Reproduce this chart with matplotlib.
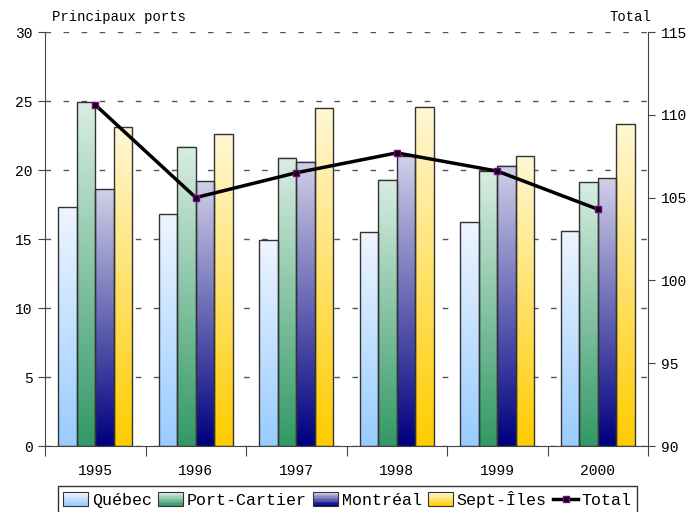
import numpy as np
import matplotlib.pyplot as plt
from matplotlib.patches import Rectangle
from matplotlib.lines import Line2D
from matplotlib.legend_handler import HandlerBase
from matplotlib.colors import to_rgb

plt.rcParams['font.family'] = ['Liberation Mono', 'DejaVu Sans Mono']

# Données (millions de tonnes)
annees = ['1995', '1996', '1997', '1998', '1999', '2000']
quebec = [17.3, 16.8, 14.9, 15.5, 16.2, 15.6]
port_cartier = [24.9, 21.7, 20.9, 19.3, 19.9, 19.1]
montreal = [18.6, 19.2, 20.6, 21.0, 20.3, 19.4]
sept_iles = [23.1, 22.6, 24.5, 24.6, 21.0, 23.3]
total = [110.6, 105.0, 106.5, 107.7, 106.6, 104.3]

series = [
    ('Québec', quebec, '#eef5ff', '#99ccff'),
    ('Port-Cartier', port_cartier, '#d8ede2', '#339966'),
    ('Montréal', montreal, '#cfcfe8', '#000080'),
    ('Sept-Îles', sept_iles, '#fff7d4', '#ffcc00'),
]


def degrade(haut, bas, n=64):
    a = np.array(to_rgb(haut))
    b = np.array(to_rgb(bas))
    t = np.linspace(0, 1, n)[:, None]
    return (a * (1 - t) + b * t)[:, None, :]


class HandlerDegrade(HandlerBase):
    def __init__(self, haut, bas):
        super().__init__()
        self.haut, self.bas = haut, bas

    def create_artists(self, legend, orig_handle, xdescent, ydescent,
                       width, height, fontsize, trans):
        n = 10
        cols = degrade(self.haut, self.bas, n)[:, 0, :]
        arts = []
        h = height / n
        for i in range(n):
            y = -ydescent + height - (i + 1) * h
            arts.append(Rectangle((-xdescent, y), width, h, facecolor=cols[i],
                                  edgecolor='none', transform=trans))
        arts.append(Rectangle((-xdescent, -ydescent), width, height,
                              facecolor='none', edgecolor='#333333', lw=0.8,
                              transform=trans))
        return arts


fig = plt.figure(figsize=(6.97, 5.12), dpi=100)
ax = fig.add_axes([0.0646, 0.1289, 0.8651, 0.8086])
ax2 = ax.twinx()

x = np.arange(len(annees))
w = 0.185
for i, (nom, vals, haut, bas) in enumerate(series):
    pos = x + (i - 1.5) * w
    for xi, v in zip(pos, vals):
        ax.imshow(degrade(haut, bas), extent=[xi - w / 2, xi + w / 2, 0, v],
                  aspect='auto', origin='upper', interpolation='bilinear',
                  zorder=2)
    ax.bar(pos, vals, w, facecolor='none', edgecolor='#333333', lw=1.0,
           zorder=3)

ax.set_xlim(-0.5, 5.5)
ax.set_ylim(0, 30)
ax.set_yticks(np.arange(0, 31, 5))
ax.yaxis.grid(True, linestyle=(0, (4, 9)), color='#555555', lw=1)
ax.set_axisbelow(True)
ax.tick_params(axis='y', length=5, color='#444444', labelsize=10.5, pad=4)

ax.set_xticks(np.arange(-0.5, 6, 1))
ax.set_xticklabels([])
ax.set_xticks(x, minor=True)
ax.set_xticklabels(annees, minor=True)
ax.tick_params(axis='x', which='major', length=7, color='#444444')
ax.tick_params(axis='x', which='minor', length=0, labelsize=10.5, pad=13)

ax.spines['top'].set_visible(False)
ax.spines['right'].set_visible(False)
for s in ['left', 'bottom']:
    ax.spines[s].set_color('#444444')

ax2.plot(x, total, color='black', lw=2.5, marker='s', ms=5,
         mfc='black', mec='#800080', mew=1, zorder=5)
ax2.set_ylim(90, 115)
ax2.set_yticks(np.arange(90, 116, 5))
ax2.tick_params(axis='y', length=5, color='#444444', labelsize=10.5, pad=4)
for s in ['top', 'left', 'bottom']:
    ax2.spines[s].set_visible(False)
ax2.spines['right'].set_color('#444444')

fig.text(0.075, 0.966, 'Principaux ports', fontsize=10, va='center')
fig.text(0.935, 0.966, 'Total', fontsize=10, va='center', ha='right')

handles = [Rectangle((0, 0), 1, 1) for _ in series]
handles.append(Line2D([], [], color='black', lw=2.5, marker='s', ms=4,
                      mfc='black', mec='#800080', mew=1))
labels = [s[0] for s in series] + ['Total']
hmap = {h: HandlerDegrade(s[2], s[3]) for h, s in zip(handles, series)}
leg = fig.legend(handles, labels, handler_map=hmap, ncol=5,
                 loc='upper center', bbox_to_anchor=(0.4986, 0.051),
                 bbox_transform=fig.transFigure, fontsize=12,
                 frameon=True, fancybox=False, edgecolor='black',
                 borderaxespad=0, borderpad=0.3, handlelength=1.5,
                 handleheight=0.9, handletextpad=0.2, columnspacing=0.4)
leg.get_frame().set_linewidth(1)

fig.savefig('out.png', dpi=100)
